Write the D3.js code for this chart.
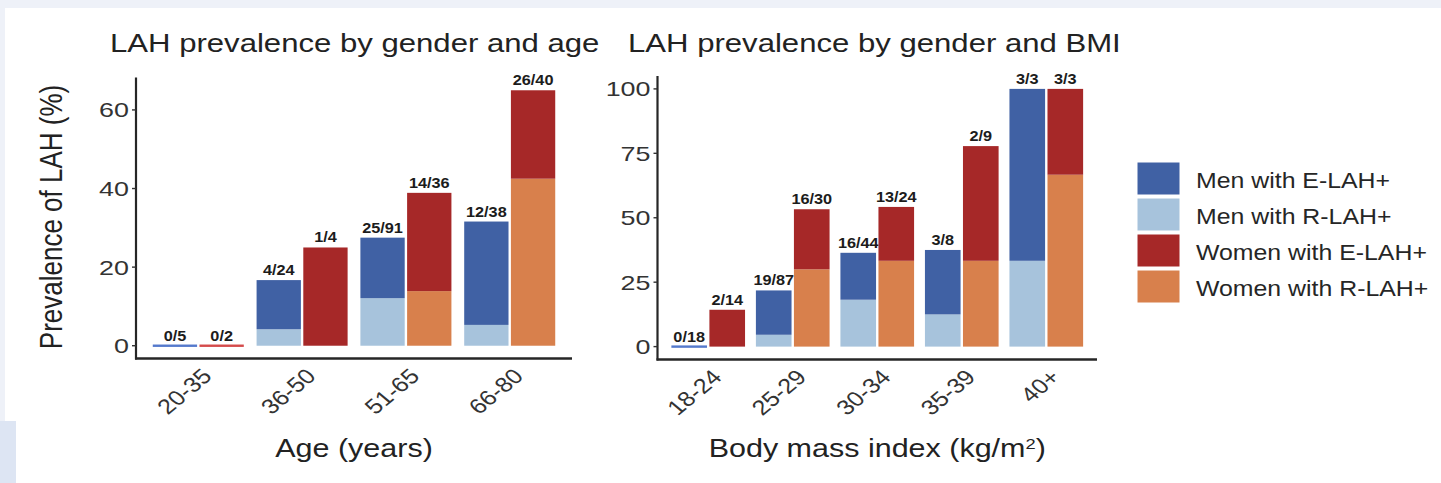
<!DOCTYPE html>
<html>
<head>
<meta charset="utf-8">
<script src="https://cdn.jsdelivr.net/npm/d3@7"></script>
<style>
  html, body { margin: 0; padding: 0; background: #eef1f8; }
  svg { display: block; font-family: "Liberation Sans", Arial, Helvetica, sans-serif; }
</style>
</head>
<body>
<svg id="chart"></svg>
<script>
// ---- data (percent of each group; R = R-LAH+, E = E-LAH+ stacked on top) ----
const ageCats = ['20-35', '36-50', '51-65', '66-80'];
const ageMenR = [0, 4.2, 12.1, 5.3];
const ageMenE = [0, 12.5, 15.4, 26.3];
const ageWomenR = [0, 0, 13.9, 42.5];
const ageWomenE = [0, 25.0, 25.0, 22.5];
const ageMenLabels = ['0/5', '4/24', '25/91', '12/38'];
const ageWomenLabels = ['0/2', '1/4', '14/36', '26/40'];
const ageTicks = [0, 20, 40, 60];

const bmiCats = ['18-24', '25-29', '30-34', '35-39', '40+'];
const bmiMenR = [0, 4.6, 18.2, 12.5, 33.3];
const bmiMenE = [0, 17.2, 18.2, 25.0, 66.7];
const bmiWomenR = [0, 30.0, 33.3, 33.3, 66.7];
const bmiWomenE = [14.3, 23.3, 20.9, 44.5, 33.3];
const bmiMenLabels = ['0/18', '19/87', '16/44', '3/8', '3/3'];
const bmiWomenLabels = ['2/14', '16/30', '13/24', '2/9', '3/3'];
const bmiTicks = [0, 25, 50, 75, 100];

const legendNames = ['Men with E-LAH+', 'Men with R-LAH+', 'Women with E-LAH+', 'Women with R-LAH+'];
const legendColors = ['#4061a4', '#a7c3dc', '#a62828', '#d8804c'];

const colors = { menE: '#4061a4', menR: '#a7c3dc', womenE: '#a62828', womenR: '#d8804c' };
const zeroColors = { men: '#5479cc', women: '#d44b4b' };

const width = 1441, height = 483;
const svg = d3.select('#chart')
  .attr('width', width)
  .attr('height', height)
  .attr('viewBox', [0, 0, width, height]);

// page background + white panel
svg.append('rect').attr('x', 0).attr('y', 0).attr('width', width).attr('height', height).attr('fill', '#eef1f8');
svg.append('rect').attr('x', 5).attr('y', 8).attr('width', width - 5).attr('height', height - 8).attr('fill', '#fff');
svg.append('rect').attr('x', 0).attr('y', 421).attr('width', 16).attr('height', height - 421).attr('fill', '#dde5f3');

// text placed with a horizontal stretch (the source figure is widened)
function stretchText(g, x, y, str, { size = 20, sx = 1.2, anchor = 'start', rotate = 0, weight = 'normal', fill = '#222' } = {}) {
  const t = g.append('text')
    .attr('transform', `translate(${x},${y}) scale(${sx},1) rotate(${rotate})`)
    .attr('text-anchor', anchor)
    .attr('font-size', size)
    .attr('font-weight', weight)
    .attr('fill', fill);
  if (typeof str === 'string') t.text(str);
  else str(t);
  return t;
}

function drawPanel({ cats, menR, menE, womenR, womenE, menLabels, womenLabels, ticks,
                     yDomain, xRange, yRange, title, titleX, xTitle }) {
  const g = svg.append('g');

  const x = d3.scalePoint(cats, xRange).padding(0.6);
  const step = x.step();
  const sub = d3.scaleBand(['men', 'women'], [-0.45 * step, 0.45 * step]);
  const y = d3.scaleLinear(yDomain, yRange);
  const inset = 1.2;

  const rows = cats.map((c, i) => ({
    c,
    men: { R: menR[i], E: menE[i], label: menLabels[i] },
    women: { R: womenR[i], E: womenE[i], label: womenLabels[i] }
  }));

  ['men', 'women'].forEach(sex => {
    const bx = d => x(d.c) + sub(sex) + inset;
    const bw = sub.bandwidth() - 2 * inset;
    const bars = g.append('g');
    // R segment (bottom)
    bars.selectAll('rect.r')
      .data(rows.filter(d => d[sex].R > 0))
      .join('rect')
        .attr('class', 'r')
        .attr('x', bx)
        .attr('width', bw)
        .attr('y', d => y(d[sex].R))
        .attr('height', d => y(0) - y(d[sex].R))
        .attr('fill', sex === 'men' ? colors.menR : colors.womenR);
    // E segment stacked on top
    bars.selectAll('rect.e')
      .data(rows.filter(d => d[sex].E > 0))
      .join('rect')
        .attr('class', 'e')
        .attr('x', bx)
        .attr('width', bw)
        .attr('y', d => y(d[sex].R + d[sex].E))
        .attr('height', d => y(d[sex].R) - y(d[sex].R + d[sex].E))
        .attr('fill', sex === 'men' ? colors.menE : colors.womenE);
    // zero-height groups show as a thin line
    bars.selectAll('rect.z')
      .data(rows.filter(d => d[sex].R + d[sex].E === 0))
      .join('rect')
        .attr('class', 'z')
        .attr('x', bx)
        .attr('width', bw)
        .attr('y', y(0) - 1.2)
        .attr('height', 2.4)
        .attr('fill', zeroColors[sex]);
    // count labels
    rows.forEach(d => {
      stretchText(g, x(d.c) + sub(sex) + sub.bandwidth() / 2, y(d[sex].R + d[sex].E) - 5, d[sex].label,
        { size: 15.5, sx: 1.05, anchor: 'middle', weight: 'bold', fill: '#1c1c1c' });
    });
  });

  // axes
  const x0 = xRange[0], x1 = xRange[1];
  g.append('line')
    .attr('x1', x0).attr('x2', x0)
    .attr('y1', yRange[0] + 1).attr('y2', yRange[1])
    .attr('stroke', '#262626').attr('stroke-width', 2.2);
  g.append('line')
    .attr('x1', x0 - 1).attr('x2', x1)
    .attr('y1', yRange[0]).attr('y2', yRange[0])
    .attr('stroke', '#262626').attr('stroke-width', 2.4);

  g.selectAll('line.tick')
    .data(ticks)
    .join('line')
      .attr('class', 'tick')
      .attr('x1', x0 - 4).attr('x2', x0)
      .attr('y1', d => y(d)).attr('y2', d => y(d))
      .attr('stroke', '#333').attr('stroke-width', 1.4);
  ticks.forEach(t => {
    stretchText(g, x0 - 7, y(t) + 7.5, String(t), { size: 21, sx: 1.28, anchor: 'end', fill: '#333' });
  });

  // rotated category labels
  cats.forEach(c => {
    stretchText(g, x(c) + 15, yRange[0] + 19, c, { size: 21, sx: 1.2, anchor: 'end', rotate: -45, fill: '#333' });
  });

  // titles
  stretchText(g, titleX, 52, title, { size: 25.5, sx: 1.22, fill: '#222' });
  stretchText(g, (x0 + x1) / 2, 457, xTitle, { size: 25, sx: 1.22, anchor: 'middle', fill: '#222' });
}

drawPanel({
  cats: ageCats, menR: ageMenR, menE: ageMenE, womenR: ageWomenR, womenE: ageWomenE,
  menLabels: ageMenLabels, womenLabels: ageWomenLabels, ticks: ageTicks,
  yDomain: [-3.25, 68.25], xRange: [136, 572], yRange: [358.5, 77.5],
  title: 'LAH prevalence by gender and age', titleX: 110, xTitle: 'Age (years)'
});

drawPanel({
  cats: bmiCats, menR: bmiMenR, menE: bmiMenE, womenR: bmiWomenR, womenE: bmiWomenE,
  menLabels: bmiMenLabels, womenLabels: bmiWomenLabels, ticks: bmiTicks,
  yDomain: [-5, 105], xRange: [657.5, 1097], yRange: [359.5, 76],
  title: 'LAH prevalence by gender and BMI', titleX: 628,
  xTitle: t => {
    t.append('tspan').text('Body mass index (kg/m');
    t.append('tspan').attr('baseline-shift', 'super').attr('font-size', 15).text('2');
    t.append('tspan').text(')');
  }
});

// y axis title (left panel only)
stretchText(svg, 62, 217, 'Prevalence of LAH (%)', { size: 26, sx: 1.2, anchor: 'middle', rotate: -90, fill: '#222' });

// legend
const legend = svg.append('g');
legendNames.forEach((name, i) => {
  legend.append('rect')
    .attr('x', 1137).attr('y', 162 + i * 36)
    .attr('width', 43).attr('height', 33)
    .attr('fill', legendColors[i])
    .attr('stroke', '#fff').attr('stroke-width', 1);
  stretchText(legend, 1196, 162 + i * 36 + 26, name, { size: 22, sx: 1.13, fill: '#262626' });
});
</script>
</body>
</html>
